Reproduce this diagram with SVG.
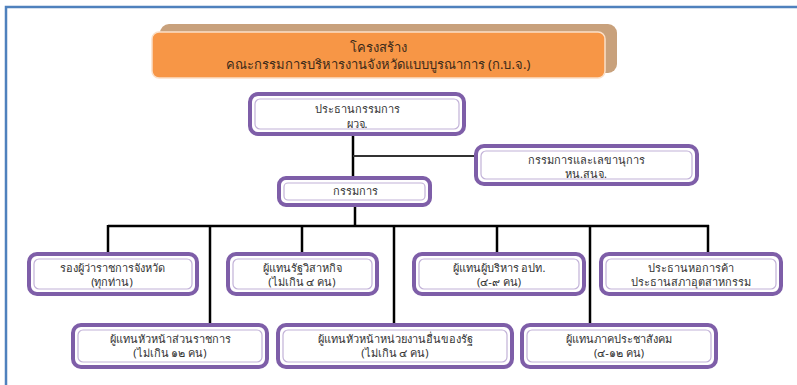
<svg xmlns="http://www.w3.org/2000/svg" width="797" height="385" viewBox="0 0 797 385">
<style>
.frame{fill:none;stroke:#4f81bd;stroke-width:2.5}
.box{fill:#ffffff;stroke:#7e5ea8;stroke-width:4}
.inner{fill:none;stroke:#c2b2d8;stroke-width:1.2}
.t{font-family:"Noto Sans","DejaVu Sans",sans-serif;font-size:11px;fill:#333333;text-anchor:middle}
.tt{font-family:"Noto Sans","DejaVu Sans",sans-serif;font-size:13px;fill:#3b2a1a;text-anchor:middle}
.ln{fill:none;stroke:#000000;stroke-width:2.5}
.ln2{fill:none;stroke:#333333;stroke-width:1.8}
</style>
<rect width="797" height="385" fill="#ffffff"/>
<path class="frame" d="M6,385 V7 H797"/>
<g id="connectors">
<path class="ln" d="M353,134 V177"/>
<path class="ln2" d="M353,156 H476"/>
<path class="ln" d="M355,206 V226"/>
<path class="ln" d="M108,226 H709"/>
<path class="ln" d="M108,225 V253"/>
<path class="ln" d="M210,225 V325"/>
<path class="ln" d="M302,225 V253"/>
<path class="ln" d="M394,225 V325"/>
<path class="ln" d="M497,225 V253"/>
<path class="ln" d="M590,225 V325"/>
<path class="ln" d="M708,225 V253"/>
</g>
<g id="title">
<rect x="160" y="24" width="457" height="49" rx="9" fill="#c8a17c"/>
<rect x="152" y="32" width="453" height="46" rx="7" fill="#f79646" stroke="#fbe0c8" stroke-width="1.5"/>
<text class="tt" x="378" y="52">โครงสร้าง</text>
<text class="tt" x="378" y="69">คณะกรรมการบริหารงานจังหวัดแบบบูรณาการ (ก.บ.จ.)</text>
</g>
<g id="chairman">
<rect class="box" x="250" y="94" width="214" height="40" rx="8"/>
<rect class="inner" x="255" y="99" width="204" height="30" rx="5"/>
<text class="t" x="357" y="113">ประธานกรรมการ</text>
<text class="t" x="357" y="128">ผวจ.</text>
</g>
<g id="secretary">
<rect class="box" x="476" y="146" width="221" height="38" rx="8"/>
<rect class="inner" x="481" y="151" width="211" height="28" rx="5"/>
<text class="t" x="586" y="164">กรรมการและเลขานุการ</text>
<text class="t" x="586" y="178">หน.สนจ.</text>
</g>
<g id="committee">
<rect class="box" x="279" y="178" width="151" height="27" rx="7"/>
<rect class="inner" x="284" y="183" width="141" height="17" rx="4"/>
<text class="t" x="355" y="195">กรรมการ</text>
</g>
<g id="n1">
<rect class="box" x="29" y="254" width="168" height="40" rx="8"/>
<rect class="inner" x="34" y="259" width="158" height="30" rx="5"/>
<text class="t" x="112" y="272">รองผู้ว่าราชการจังหวัด</text>
<text class="t" x="112" y="286">(ทุกท่าน)</text>
</g>
<g id="n2">
<rect class="box" x="228" y="254" width="149" height="40" rx="8"/>
<rect class="inner" x="233" y="259" width="139" height="30" rx="5"/>
<text class="t" x="302" y="272">ผู้แทนรัฐวิสาหกิจ</text>
<text class="t" x="302" y="286">(ไม่เกิน ๔ คน)</text>
</g>
<g id="n3">
<rect class="box" x="414" y="254" width="170" height="40" rx="8"/>
<rect class="inner" x="419" y="259" width="160" height="30" rx="5"/>
<text class="t" x="499" y="272">ผู้แทนผู้บริหาร อปท.</text>
<text class="t" x="499" y="286">(๔-๙ คน)</text>
</g>
<g id="n4">
<rect class="box" x="601" y="254" width="180" height="40" rx="8"/>
<rect class="inner" x="606" y="259" width="170" height="30" rx="5"/>
<text class="t" x="691" y="272">ประธานหอการค้า</text>
<text class="t" x="691" y="286">ประธานสภาอุตสาหกรรม</text>
</g>
<g id="n5">
<rect class="box" x="73" y="325" width="194" height="42" rx="8"/>
<rect class="inner" x="78" y="330" width="184" height="32" rx="5"/>
<text class="t" x="170" y="343">ผู้แทนหัวหน้าส่วนราชการ</text>
<text class="t" x="170" y="357">(ไม่เกิน ๑๒ คน)</text>
</g>
<g id="n6">
<rect class="box" x="278" y="325" width="234" height="42" rx="8"/>
<rect class="inner" x="283" y="330" width="224" height="32" rx="5"/>
<text class="t" x="395" y="343">ผู้แทนหัวหน้าหน่วยงานอื่นของรัฐ</text>
<text class="t" x="395" y="357">(ไม่เกิน ๔ คน)</text>
</g>
<g id="n7">
<rect class="box" x="522" y="325" width="194" height="42" rx="8"/>
<rect class="inner" x="527" y="330" width="184" height="32" rx="5"/>
<text class="t" x="619" y="343">ผู้แทนภาคประชาสังคม</text>
<text class="t" x="619" y="357">(๔-๑๒ คน)</text>
</g>
</svg>
